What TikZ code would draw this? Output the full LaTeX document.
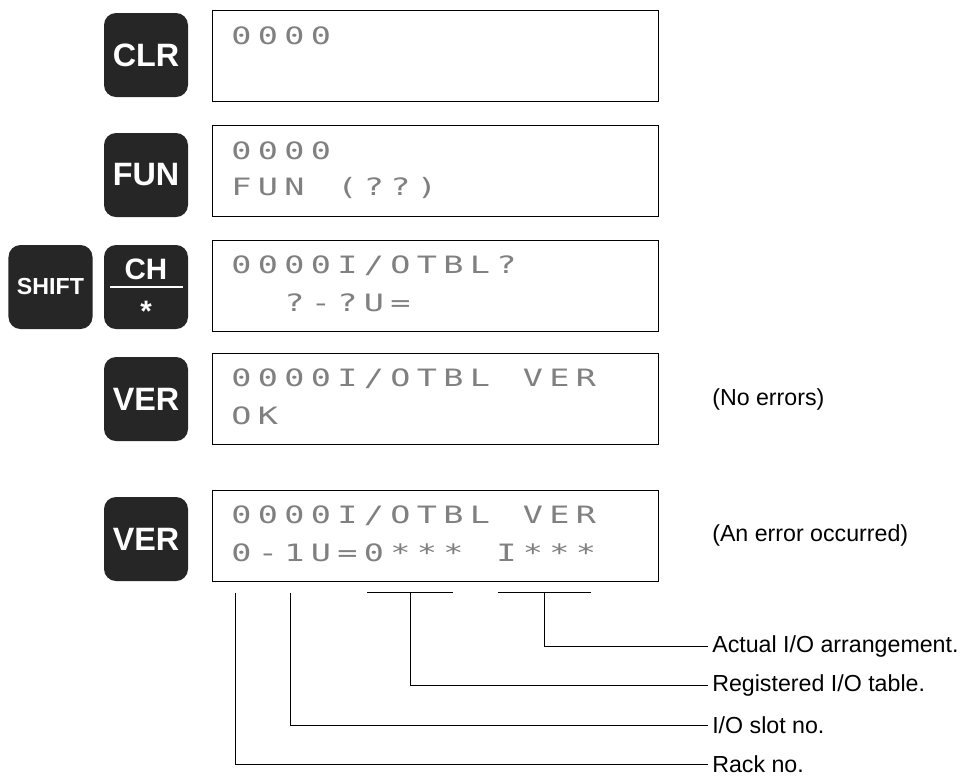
\documentclass[tikz,border=0pt]{standalone}
\usepackage{fontspec}
\setmainfont{Liberation Sans}
\newfontfamily\lcdfont[FakeStretch=1.4]{DejaVu Sans Mono}
\usetikzlibrary{positioning, calc}
\newlength\lcdpitch
\setlength\lcdpitch{6.625mm}
\ExplSyntaxOn
\NewDocumentCommand\lcdrow{m}{\str_map_inline:nn{#1}{\makebox[\lcdpitch][c]{##1}}}
\ExplSyntaxOff

\begin{document}
\begin{tikzpicture}[
  x=0.25mm, y=-0.25mm,
  key/.style={fill=black!85, rounded corners=3mm, minimum width=21mm, minimum height=21mm, inner sep=0pt, text=white, font=\fontsize{23}{25}\selectfont\bfseries},
  keytxt/.style={inner sep=0pt, text=white, font=\fontsize{21}{23}\selectfont\bfseries},
  lcdbox/.style={draw, line width=0.9pt, minimum width=111.5mm, minimum height=22.75mm, anchor=north west, inner sep=0pt},
  lcd/.style={anchor=west, inner sep=0pt, text=black!50, font=\lcdfont\fontsize{17}{20}\selectfont},
  lbl/.style={anchor=west, inner xsep=1mm, inner ysep=0pt, font=\fontsize{16.5}{19}\selectfont},
  lead/.style={line width=0.6pt}
  ]
  \useasboundingbox (0,0) rectangle (976,778);
  \node[lcdbox] (d1) at (212,10) {};
  \node[lcdbox] (d2) at (212,125) {};
  \node[lcdbox] (d3) at (212,240) {};
  \node[lcdbox] (d4) at (212,353) {};
  \node[lcdbox] (d5) at (212,490) {};
  \node[lcd] at ($(d1.north west)+(16,26)$) {\lcdrow{0000}};
  \node[lcd] at ($(d2.north west)+(16,26)$) {\lcdrow{0000}};
  \node[lcd] at ($(d2.north west)+(16,63)$) {\lcdrow{FUN (??)}};
  \node[lcd] at ($(d3.north west)+(16,26)$) {\lcdrow{0000I/OTBL?}};
  \node[lcd] at ($(d3.north west)+(16,63)$) {\hspace*{2\lcdpitch}\lcdrow{?-?U=}};
  \node[lcd] at ($(d4.north west)+(16,26)$) {\lcdrow{0000I/OTBL VER}};
  \node[lcd] at ($(d4.north west)+(16,63)$) {\lcdrow{OK}};
  \node[lcd] at ($(d5.north west)+(16,26)$) {\lcdrow{0000I/OTBL VER}};
  \node[lcd] at ($(d5.north west)+(16,63)$) {\lcdrow{0-1U=0*** I***}};
  \node[key] (clr) at (146,55) {CLR};
  \node[key] (fun) at (146,175) {FUN};
  \node[key, font=\fontsize{16.5}{18}\selectfont\bfseries] (shift) at (50.5,287) {SHIFT};
  \node[key] (ch) at (146,287) {};
  \node[keytxt] (chtop) at ($(ch)+(0,-18)$) {CH};
  \draw[white, line width=1.2pt] ($(ch)+(-36,0)$) -- ($(ch)+(37,0)$);
  \node[keytxt] (chbot) at ($(ch)+(0,24)$) {*};
  \node[key] (ver) at (146,399) {VER};
  \node[key] (vererr) at (146,539) {VER};
  \node[lbl] (noerr) at (708,399) {(No errors)};
  \node[lbl] (err) at (708,535) {(An error occurred)};
  \node[lbl] (act) at (708,646) {Actual I/O arrangement.};
  \node[lbl] (reg) at (708,685) {Registered I/O table.};
  \node[lbl] (slot) at (708,725) {I/O slot no.};
  \node[lbl] (rack) at (708,764) {Rack no.};
  \coordinate (rk) at (235,593);
  \coordinate (sl) at (290,593);
  \coordinate (ra) at (367,592);
  \coordinate (rb) at (453,592);
  \coordinate (aa) at (498,592);
  \coordinate (ab) at (591,592);
  \draw[lead] (ra) -- (rb);
  \draw[lead] (aa) -- (ab);
  \draw[lead] ($(ra)!0.5!(rb)$) |- (reg.west);
  \draw[lead] ($(aa)!0.5!(ab)$) |- (act.west);
  \draw[lead] (sl) |- (slot.west);
  \draw[lead] (rk) |- (rack.west);
\end{tikzpicture}
\end{document}
